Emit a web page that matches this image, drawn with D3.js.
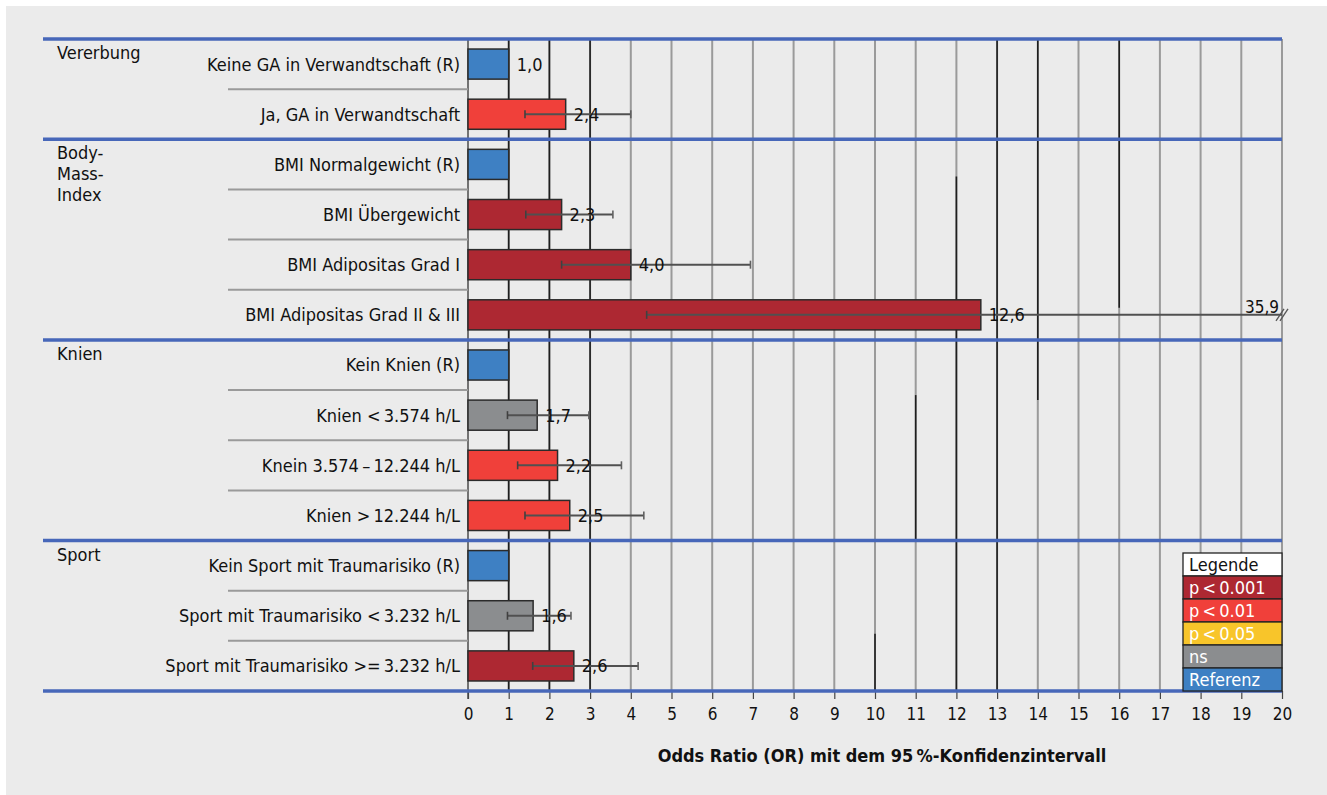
<!DOCTYPE html>
<html>
<head>
<meta charset="utf-8">
<script src="https://cdn.jsdelivr.net/npm/d3@7"></script>
<style>
  body { margin: 0; background: #fff; }
  svg { display: block; }
  text { font-family: "DejaVu Sans Condensed", "Liberation Sans Narrow", sans-serif; fill: #111; }
</style>
</head>
<body>
<div id="chart"></div>
<script>
// rows, top to bottom
const rowLabels = [
    "Keine GA in Verwandtschaft (R)",
    "Ja, GA in Verwandtschaft",
    "BMI Normalgewicht (R)",
    "BMI Übergewicht",
    "BMI Adipositas Grad I",
    "BMI Adipositas Grad II & III",
    "Kein Knien (R)",
    "Knien <\u20093.574 h/L",
    "Knein 3.574\u2009–\u200912.244 h/L",
    "Knien >\u200912.244 h/L",
    "Kein Sport mit Traumarisiko (R)",
    "Sport mit Traumarisiko <\u20093.232 h/L",
    "Sport mit Traumarisiko >=\u20093.232 h/L"
];
const oddsRatios = [1.0, 2.4, 1.0, 2.3, 4.0, 12.6, 1.0, 1.7, 2.2, 2.5, 1.0, 1.6, 2.6];
const ciLower = [null, 1.4, null, 1.42, 2.3, 4.39, null, 0.97, 1.22, 1.4, null, 0.97, 1.59];
const ciUpper = [null, 4.0, null, 3.56, 6.94, 35.9, null, 2.97, 3.77, 4.32, null, 2.53, 4.18];
const valueLabels = ["1,0", "2,4", "", "2,3", "4,0", "12,6", "", "1,7", "2,2", "2,5", "", "1,6", "2,6"];
const significance = ["ref", "p01", "ref", "p001", "p001", "p001", "ref", "ns", "p01", "p01", "ref", "ns", "p001"];

// groups: label lines, first row
const groupNames = [["Vererbung"], ["Body-", "Mass-", "Index"], ["Knien"], ["Sport"]];
const groupStart = [0, 2, 6, 10];

const xTicks = d3.range(0, 21);
// darker grid lines: value, from row, to row (row units)
const darkGrid = [[1, 0, 13], [2, 0, 13], [3, 0, 13], [10, 11.86, 13], [11, 7.1, 10], [12, 2.74, 13], [13, 0, 13], [14, 0, 7.2], [16, 0, 5.36]];

const legendKeys = ["p001", "p01", "p05", "ns", "ref"];
const legendLabels = ["p\u2009<\u20090.001", "p\u2009<\u20090.01", "p\u2009<\u20090.05", "ns", "Referenz"];
const legendColors = ["#ad2832", "#f0403a", "#f8c52a", "#8b8d8f", "#3e80c3"];

const width = 1327, height = 795;
const svg = d3.select("#chart").append("svg")
    .attr("width", width)
    .attr("height", height);

// panel background
svg.append("rect")
    .attr("x", 6).attr("y", 6)
    .attr("width", width - 6).attr("height", height - 6)
    .attr("fill", "#ebebeb");

const x = d3.scaleLinear().domain([0, 20]).range([468, 1282]);
const y = d3.scaleBand().domain(d3.range(rowLabels.length)).range([39, 691]).paddingInner(0.4).paddingOuter(0.2);
const color = d3.scaleOrdinal().domain(legendKeys).range(legendColors);
const rowY = v => 39 + (691 - 39) * v / rowLabels.length;
const yTop = rowY(0), yBottom = rowY(rowLabels.length);

// grid lines
svg.append("g")
    .selectAll("line")
    .data(xTicks.filter(d => d > 0))
    .enter().append("line")
    .attr("x1", d => x(d)).attr("x2", d => x(d))
    .attr("y1", yTop).attr("y2", yBottom)
    .style("stroke", "#9a9a9a")
    .style("stroke-width", 2);

svg.append("g")
    .selectAll("line")
    .data(darkGrid)
    .enter().append("line")
    .attr("x1", d => x(d[0])).attr("x2", d => x(d[0]))
    .attr("y1", d => rowY(d[1])).attr("y2", d => rowY(d[2]))
    .style("stroke", "#1e1e1e")
    .style("stroke-width", 1.6);

// zero line
svg.append("line")
    .attr("x1", x(0)).attr("x2", x(0))
    .attr("y1", yTop).attr("y2", yBottom + 8)
    .style("stroke", "#555")
    .style("stroke-width", 1.6);

// thin separators between rows inside a group
const separators = d3.range(1, rowLabels.length).filter(i => !groupStart.includes(i));
svg.append("g")
    .selectAll("line")
    .data(separators)
    .enter().append("line")
    .attr("x1", 228).attr("x2", x(0))
    .attr("y1", d => rowY(d)).attr("y2", d => rowY(d))
    .style("stroke", "#9a9a9a")
    .style("stroke-width", 2);

// x axis ticks + labels
const xAxis = svg.append("g")
    .attr("transform", `translate(0,${yBottom})`)
    .call(d3.axisBottom(x).tickValues(xTicks).tickSize(8).tickPadding(9).tickFormat(d3.format("d")));
xAxis.select(".domain").remove();
xAxis.selectAll(".tick line").style("stroke", "#444").style("stroke-width", 1.2);
xAxis.selectAll(".tick text")
    .style("font-family", '"DejaVu Sans Condensed", sans-serif')
    .style("font-size", "17px")
    .style("fill", "#111");

// bars
svg.append("g")
    .selectAll("rect")
    .data(oddsRatios)
    .enter().append("rect")
    .attr("x", x(0))
    .attr("y", (d, i) => y(i))
    .attr("width", d => x(d) - x(0))
    .attr("height", y.bandwidth())
    .style("fill", (d, i) => color(significance[i]))
    .style("stroke", "#2b2b2b")
    .style("stroke-width", 1.5);

// confidence intervals
const ciRows = d3.range(rowLabels.length).filter(i => ciLower[i] !== null);
const ci = svg.append("g");
ci.selectAll("line.ci")
    .data(ciRows)
    .enter().append("line")
    .attr("class", "ci")
    .attr("x1", i => x(ciLower[i]))
    .attr("x2", i => x(Math.min(ciUpper[i], 20)))
    .attr("y1", i => y(i) + y.bandwidth() / 2)
    .attr("y2", i => y(i) + y.bandwidth() / 2)
    .style("stroke", "#505050")
    .style("stroke-width", 2);
ci.selectAll("line.lo")
    .data(ciRows)
    .enter().append("line")
    .attr("class", "lo")
    .attr("x1", i => x(ciLower[i])).attr("x2", i => x(ciLower[i]))
    .attr("y1", i => y(i) + y.bandwidth() / 2 - 4)
    .attr("y2", i => y(i) + y.bandwidth() / 2 + 4)
    .style("stroke", "#404040")
    .style("stroke-width", 1.6);
ci.selectAll("line.hi")
    .data(ciRows.filter(i => ciUpper[i] <= 20))
    .enter().append("line")
    .attr("class", "hi")
    .attr("x1", i => x(ciUpper[i])).attr("x2", i => x(ciUpper[i]))
    .attr("y1", i => y(i) + y.bandwidth() / 2 - 4)
    .attr("y2", i => y(i) + y.bandwidth() / 2 + 4)
    .style("stroke", "#606060")
    .style("stroke-width", 1.6);

// clipped CI: break mark and value
ciRows.filter(i => ciUpper[i] > 20).forEach(i => {
    const cy = y(i) + y.bandwidth() / 2;
    const bx = x(20);
    [-2, 2].forEach(off => {
        svg.append("line")
            .attr("x1", bx + off - 4).attr("y1", cy + 6)
            .attr("x2", bx + off + 4).attr("y2", cy - 6)
            .style("stroke", "#555")
            .style("stroke-width", 1.3);
    });
    svg.append("text")
        .attr("x", bx - 3)
        .attr("y", cy - 2)
        .attr("text-anchor", "end")
        .style("font-size", "17px")
        .text(d3.format(".1f")(ciUpper[i]).replace(".", ","));
});

// value labels
svg.append("g")
    .selectAll("text")
    .data(oddsRatios)
    .enter().append("text")
    .attr("x", d => x(d) + 8)
    .attr("y", (d, i) => y(i) + y.bandwidth() / 2)
    .attr("dy", "0.36em")
    .style("font-size", "18px")
    .text((d, i) => valueLabels[i]);

// row labels
svg.append("g")
    .selectAll("text")
    .data(rowLabels)
    .enter().append("text")
    .attr("x", 460)
    .attr("y", (d, i) => y(i) + y.bandwidth() / 2)
    .attr("dy", "0.36em")
    .attr("text-anchor", "end")
    .style("font-size", "18px")
    .text(d => d);

// group separators (blue)
const blueLines = groupStart.concat([rowLabels.length]);
svg.append("g")
    .selectAll("line")
    .data(blueLines)
    .enter().append("line")
    .attr("x1", 43).attr("x2", x(20))
    .attr("y1", d => rowY(d)).attr("y2", d => rowY(d))
    .style("stroke", "#4767b9")
    .style("stroke-width", 3.5);

// group labels
groupNames.forEach((lines, g) => {
    svg.append("text")
        .attr("x", 57)
        .attr("y", rowY(groupStart[g]) + 20)
        .style("font-size", "18px")
        .selectAll("tspan")
        .data(lines)
        .enter().append("tspan")
        .attr("x", 57)
        .attr("dy", (d, i) => i === 0 ? 0 : 21)
        .text(d => d);
});

// x axis title
svg.append("text")
    .attr("x", 882)
    .attr("y", 762)
    .attr("text-anchor", "middle")
    .style("font-family", '"DejaVu Sans Condensed", sans-serif')
    .style("font-weight", "bold")
    .style("font-size", "18px")
    .text("Odds Ratio (OR) mit dem 95\u2009%-Konfidenzintervall");

// legend
const legend = svg.append("g").attr("transform", "translate(1183,553)");
const lh = 23, lw = 99;
legend.append("rect")
    .attr("width", lw).attr("height", lh)
    .style("fill", "#fff").style("stroke", "#222").style("stroke-width", 1.3);
legend.append("text")
    .attr("x", 6).attr("y", lh / 2).attr("dy", "0.36em")
    .style("font-size", "18px")
    .text("Legende");
legend.selectAll("rect.key")
    .data(legendKeys)
    .enter().append("rect")
    .attr("class", "key")
    .attr("y", (d, i) => lh * (i + 1))
    .attr("width", lw).attr("height", lh)
    .style("fill", d => color(d))
    .style("stroke", "#222").style("stroke-width", 1.3);
legend.selectAll("text.key")
    .data(legendLabels)
    .enter().append("text")
    .attr("class", "key")
    .attr("x", 6)
    .attr("y", (d, i) => lh * (i + 1) + lh / 2)
    .attr("dy", "0.36em")
    .style("font-size", "18px")
    .style("fill", "#fff")
    .text(d => d);
</script>
</body>
</html>
